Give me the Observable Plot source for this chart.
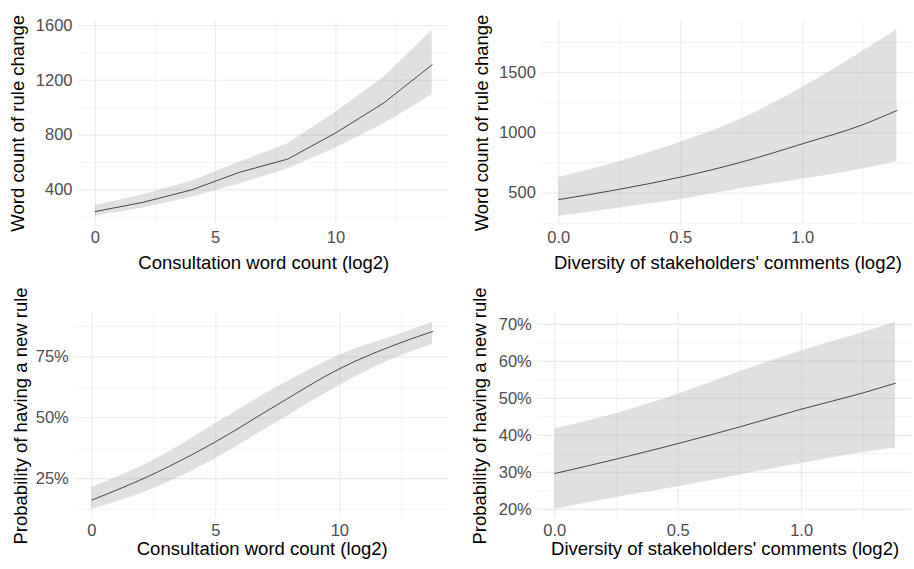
<!DOCTYPE html>
<html><head><meta charset="utf-8">
<script src="https://cdn.jsdelivr.net/npm/d3@7"></script>
<script src="https://cdn.jsdelivr.net/npm/@observablehq/plot@0.6"></script>
<style>
body{margin:0;background:#fff;}
#chart{position:relative;width:914px;height:569px;overflow:hidden;background:#fff;}
#chart svg{position:absolute;overflow:visible;}
#chart [aria-label="x-axis tick label"], #chart [aria-label="y-axis tick label"]{fill:#4d4d4d;}
#chart [aria-label="x-axis label"], #chart [aria-label="y-axis label"]{fill:#000;font-size:18.5px;}
</style></head><body><div id="chart"></div>
<script>
// Panel A: word count of rule change vs consultation word count (log2)
const wcX   = [0, 2, 4, 6, 8, 10, 12, 14];
const wcFit = [242, 310, 400, 529, 625, 817, 1036, 1313];
const wcLo  = [208, 267, 347, 444, 554, 705, 883, 1094];
const wcHi  = [286, 364, 464, 602, 736, 967, 1223, 1564];
const wcXTicks = [0, 5, 10], wcXMinor = [2.5, 7.5, 12.5];
const wcYTicks = [400, 800, 1200, 1600], wcYMinor = [200, 600, 1000, 1400];

// Panel B: word count of rule change vs diversity of comments (log2)
const dvX   = [0, 0.25, 0.5, 0.75, 1.0, 1.25, 1.386];
const dvFit = [445, 531, 632, 757, 909, 1070, 1185];
const dvLo  = [307, 376, 445, 536, 616, 702, 762];
const dvHi  = [627, 762, 922, 1116, 1377, 1681, 1855];
const dvXTicks = [0, 0.5, 1.0], dvXMinor = [0.25, 0.75, 1.25];
const dvYTicks = [500, 1000, 1500], dvYMinor = [250, 750, 1250, 1750];

// Panel C: probability of new rule (%) vs consultation word count (log2)
const pwX   = [0, 2.5, 5, 7.5, 10, 12.5, 13.74];
const pwFit = [16.2, 27.0, 40.2, 55.5, 70.2, 81.0, 85.4];
const pwLo  = [12.4, 21.0, 33.3, 48.4, 63.4, 75.7, 80.1];
const pwHi  = [21.4, 32.6, 47.7, 62.7, 75.7, 84.6, 89.1];
const pwXTicks = [0, 5, 10], pwXMinor = [2.5, 7.5, 12.5];
const pwYTicks = [25, 50, 75], pwYMinor = [12.5, 37.5, 62.5, 87.5];

// Panel D: probability of new rule (%) vs diversity of comments (log2)
const pdX   = [0, 0.25, 0.5, 0.75, 1.0, 1.25, 1.38];
const pdFit = [29.7, 33.6, 37.8, 42.3, 47.1, 51.5, 54.1];
const pdLo  = [20.0, 23.2, 26.1, 29.3, 32.4, 35.4, 36.5];
const pdHi  = [41.7, 45.9, 51.1, 57.2, 62.8, 67.8, 70.5];
const pdXTicks = [0, 0.5, 1.0], pdXMinor = [0.25, 0.75, 1.25];
const pdYTicks = [20, 30, 40, 50, 60, 70], pdYMinor = [25, 35, 45, 55, 65];

const labX1 = "Consultation word count (log2)";
const labX2 = "Diversity of stakeholders' comments (log2)";
const labY1 = "Word count of rule change";
const labY2 = "Probability of having a new rule";

function expand(lo, hi) { const d = (hi - lo) * 0.05; return [lo - d, hi + d]; }
function rows(x, fit, lo, hi) { return x.map((v, i) => ({x: v, fit: fit[i], lo: lo[i], hi: hi[i]})); }

const chart = document.getElementById("chart");

function panel(o) {
  const data = rows(o.x, o.fit, o.lo, o.hi);
  const svg = Plot.plot({
    width: o.width, height: o.height,
    marginLeft: o.m[0], marginRight: o.m[1], marginTop: o.m[2], marginBottom: o.m[3],
    style: {fontFamily: "'Liberation Sans', Arial, sans-serif", fontSize: "16.5px", background: "transparent", overflow: "visible", color: "#000"},
    x: {domain: expand(d3.min(o.x), d3.max(o.x))},
    y: {domain: expand(d3.min(o.lo), d3.max(o.hi))},
    marks: [
      Plot.gridX(o.xMinor, {stroke: "#ebebeb", strokeOpacity: 1, strokeWidth: 0.6}),
      Plot.gridY(o.yMinor, {stroke: "#ebebeb", strokeOpacity: 1, strokeWidth: 0.6}),
      Plot.gridX(o.xTicks, {stroke: "#ebebeb", strokeOpacity: 1, strokeWidth: 1.1}),
      Plot.gridY(o.yTicks, {stroke: "#ebebeb", strokeOpacity: 1, strokeWidth: 1.1}),
      Plot.areaY(data, {x: "x", y1: "lo", y2: "hi", fill: "#999", fillOpacity: 0.3, curve: o.curve}),
      Plot.lineY(data, {x: "x", y: "fit", stroke: "#1a1a1a", strokeWidth: 0.8, curve: o.curve}),
      Plot.axisX(o.xTicks, {tickSize: 0, tickPadding: 6, tickFormat: o.xFormat, label: o.xLabel,
        labelAnchor: "center", labelArrow: "none", labelOffset: o.xlo}),
      Plot.axisY(o.yTicks, {tickSize: 0, tickPadding: 6, tickFormat: o.yFormat, label: o.yLabel,
        labelAnchor: "center", labelArrow: "none", labelOffset: o.ylo})
    ]
  });
  svg.style.left = o.left + "px";
  svg.style.top = o.top + "px";
  chart.appendChild(svg);
}

const f1 = d3.format(".1f");
const fInt = d => String(d);
const fPct = d => d + "%";

panel({x: wcX, fit: wcFit, lo: wcLo, hi: wcHi, xTicks: wcXTicks, xMinor: wcXMinor, yTicks: wcYTicks, yMinor: wcYMinor,
  xFormat: fInt, yFormat: fInt, xLabel: labX1, yLabel: labY1, width: 457, height: 290, m: [78, 8.5, 20.6, 65],
  left: 0, top: 0, xlo: 43, ylo: 68, curve: "linear"});
panel({x: dvX, fit: dvFit, lo: dvLo, hi: dvHi, xTicks: dvXTicks, xMinor: dvXMinor, yTicks: dvYTicks, yMinor: dvYMinor,
  xFormat: f1, yFormat: fInt, xLabel: labX2, yLabel: labY1, width: 457, height: 290, m: [84.4, 0.6, 20, 65],
  left: 457, top: 0, xlo: 43, ylo: 67, curve: "monotone-x"});
panel({x: pwX, fit: pwFit, lo: pwLo, hi: pwHi, xTicks: pwXTicks, xMinor: pwXMinor, yTicks: pwYTicks, yMinor: pwYMinor,
  xFormat: fInt, yFormat: fPct, xLabel: labX1, yLabel: labY2, width: 457, height: 279, m: [74.3, 7.9, 22.7, 50.8],
  left: 0, top: 290, xlo: 36.6, ylo: 61, curve: "monotone-x"});
panel({x: pdX, fit: pdFit, lo: pdLo, hi: pdHi, xTicks: pdXTicks, xMinor: pdXMinor, yTicks: pdYTicks, yMinor: pdYMinor,
  xFormat: f1, yFormat: fPct, xLabel: labX2, yLabel: labY2, width: 457, height: 279, m: [80.3, 2.1, 22.7, 50.8],
  left: 457, top: 290, xlo: 36.6, ylo: 65, curve: "monotone-x"});
</script></body></html>
